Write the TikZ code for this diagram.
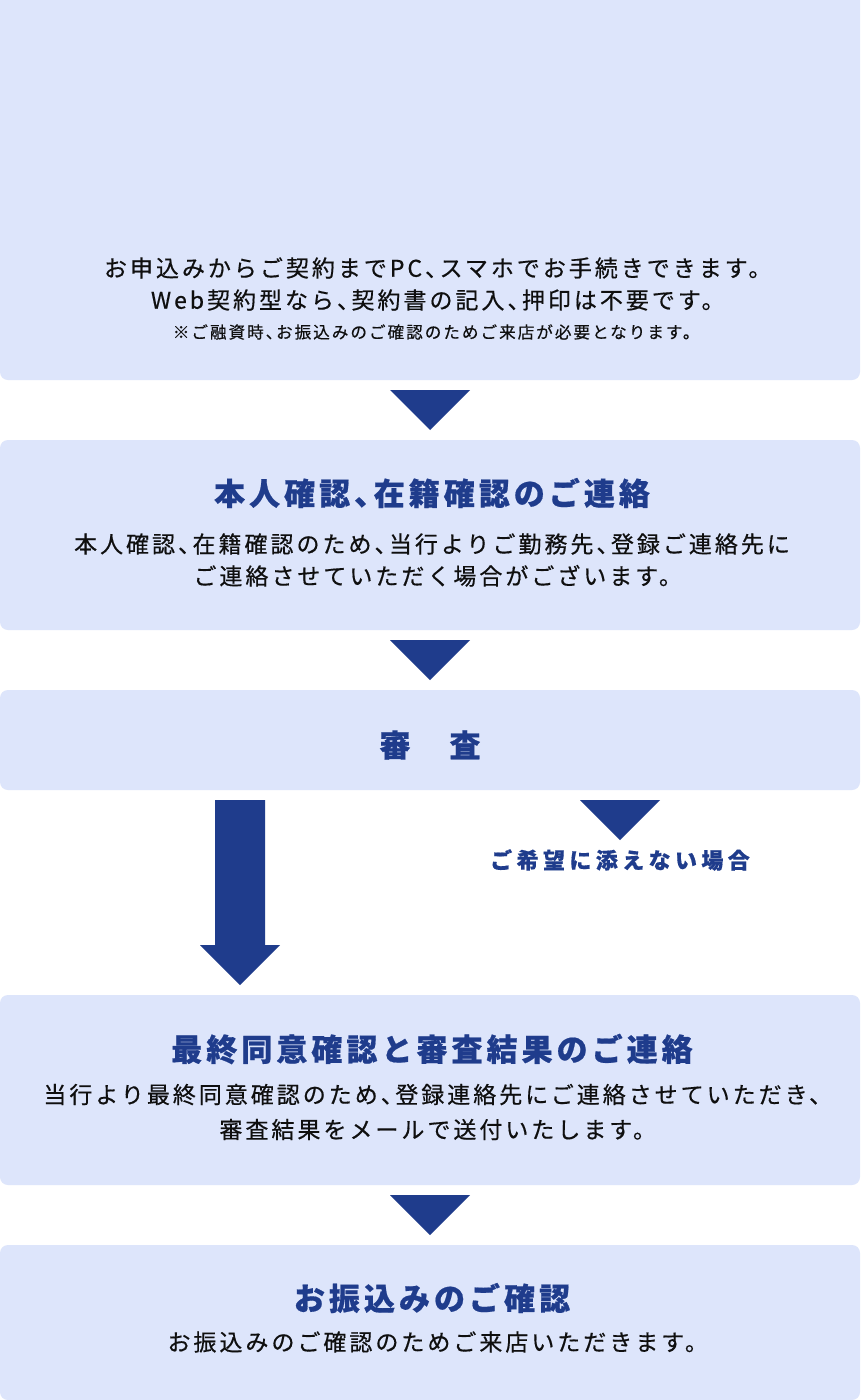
\documentclass[tikz,border=0pt]{standalone}
\usepackage{fontspec}
\setmainfont{Noto Sans CJK JP}[RawFeature=+halt]
\usetikzlibrary{calc}
\definecolor{boxfill}{RGB}{221,229,251}
\definecolor{navy}{RGB}{31,60,140}
\definecolor{ink}{RGB}{15,15,15}
\tikzset{
  flowbox/.style={fill=boxfill, rounded corners=8pt, minimum width=860pt, inner sep=0pt, outer sep=0pt},
  titletext/.style={text=navy, font=\fontsize{31}{36}\selectfont\bfseries\addfontfeature{LetterSpace=13,FakeBold=0.6}},
  bodytext/.style={text=ink, align=center, font=\fontsize{23}{32}\selectfont\addfontfeature{LetterSpace=13,FakeBold=0.5}},
  smalltext/.style={text=ink, font=\fontsize{16.6}{20}\selectfont\addfontfeature{LetterSpace=12,FakeBold=0.4}},
  tri/.style={fill=navy}
}
\begin{document}
\begin{tikzpicture}[x=1pt,y=-1pt]
\useasboundingbox (0,0) rectangle (860,1400);
\fill[white] (0,0) rectangle (860,1400);
\begin{scope}
\clip (0,0) rectangle (860,1400);
% boxes
\node[flowbox, minimum height=390pt] (b1) at (430,185) {};
\node[flowbox, minimum height=190pt] (b2) at (430,535) {};
\node[flowbox, minimum height=100pt] (b3) at (430,740) {};
\node[flowbox, minimum height=190pt] (b4) at (430,1090) {};
\node[flowbox, minimum height=155pt] (b5) at (430,1322.5) {};
\end{scope}
% texts
\node[bodytext] (t1) at (432,284) {お申込みからご契約までPC、スマホでお手続きできます。\\Web契約型なら、契約書の記入、押印は不要です。};
\node[smalltext] (t1s) at (432,332) {※ご融資時、お振込みのご確認のためご来店が必要となります。};
\node[titletext] (h2) at (432,493) {本人確認、在籍確認のご連絡};
\node[bodytext] (t2) at (432,560) {本人確認、在籍確認のため、当行よりご勤務先、登録ご連絡先に\\ご連絡させていただく場合がございます。};
\node[titletext] (h3) at (430,745) {審　査};
\node[text=navy, font=\fontsize{22}{24}\selectfont\bfseries\addfontfeature{LetterSpace=20,FakeBold=0.5}] (ng) at (620,860) {ご希望に添えない場合};
\node[titletext] (h4) at (432,1049) {最終同意確認と審査結果のご連絡};
\node[bodytext, font=\fontsize{23}{35}\selectfont\addfontfeature{LetterSpace=13,FakeBold=0.5}] (t4) at (432,1112) {当行より最終同意確認のため、登録連絡先にご連絡させていただき、\\審査結果をメールで送付いたします。};
\node[titletext] (h5) at (432,1298) {お振込みのご確認};
\node[bodytext] (t5) at (432,1342) {お振込みのご確認のためご来店いただきます。};
% arrows
\fill[tri] ($(b1.south)+(-40,10)$) -- ($(b1.south)+(40,10)$) -- ($(b2.north)+(0,-10)$) -- cycle;
\fill[tri] ($(b2.south)+(-40,10)$) -- ($(b2.south)+(40,10)$) -- ($(b3.north)+(0,-10)$) -- cycle;
\fill[tri] ($(b4.south)+(-40,10)$) -- ($(b4.south)+(40,10)$) -- ($(b5.north)+(0,-10)$) -- cycle;
\coordinate (la) at ($(b3.south west)+(240,10)$);
\coordinate (lb) at ($(b4.north west)+(240,-10)$);
\fill[tri] ($(la)+(-25,0)$) -- ($(la)+(25,0)$) -- ($(lb)+(25,-40)$) -- ($(lb)+(40,-40)$) -- (lb) -- ($(lb)+(-40,-40)$) -- ($(lb)+(-25,-40)$) -- cycle;
\coordinate (ra) at ($(b3.south west)+(620,10)$);
\fill[tri] ($(ra)+(-40,0)$) -- ($(ra)+(40,0)$) -- ($(ra)+(0,40)$) -- cycle;
\end{tikzpicture}
\end{document}
